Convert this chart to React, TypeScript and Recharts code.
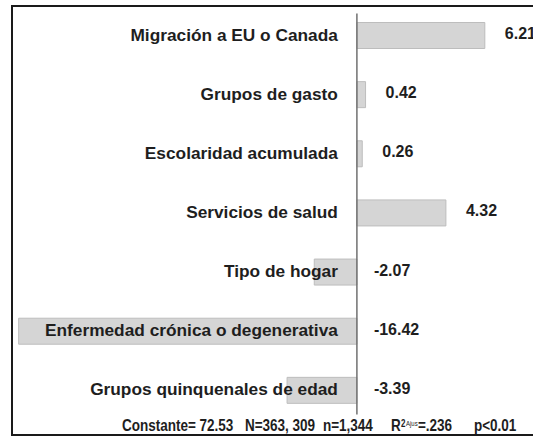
import React from 'react';
import { BarChart, Bar, XAxis, YAxis, LabelList, ReferenceLine } from 'recharts';

const categories = [
  'Migración a EU o Canada',
  'Grupos de gasto',
  'Escolaridad acumulada',
  'Servicios de salud',
  'Tipo de hogar',
  'Enfermedad crónica o degenerativa',
  'Grupos quinquenales de edad',
];
const coefficients = [6.21, 0.42, 0.26, 4.32, -2.07, -16.42, -3.39];
const valueLabels = ['6.21', '0.42', '0.26', '4.32', '-2.07', '-16.42', '-3.39'];

const footnoteParts = ['Constante= 72.53', 'N=363, 309', 'n=1,344', '=.236', 'p<0.01'];

const data = categories.map((name, i) => ({ name, value: coefficients[i], label: valueLabels[i] }));

const FONT = '"Liberation Sans", Arial, sans-serif';
const INK = '#1e1e1e';

const bounds = (props: any) => {
  const x = Number(props.x);
  const w = Number(props.width);
  return { left: Math.min(x, x + w), right: Math.max(x, x + w) };
};

const CategoryLabel = (props: any) => {
  const { index, y, height } = props;
  const d = data[index];
  const { left, right } = bounds(props);
  const zero = d.value >= 0 ? left : right;
  return (
    <text
      x={zero - 19}
      y={Number(y) + Number(height) / 2 - 1}
      textAnchor="end"
      dominantBaseline="central"
      fontFamily={FONT}
      fontWeight="bold"
      fontSize={17.3}
      fill={INK}
    >
      {d.name}
    </text>
  );
};

const ValueLabel = (props: any) => {
  const { index, y, height } = props;
  const d = data[index];
  const { right } = bounds(props);
  const x = d.value >= 0 ? right + 20 : right + 17;
  return (
    <text
      x={x}
      y={Number(y) + Number(height) / 2 - 2}
      textAnchor="start"
      dominantBaseline="central"
      fontFamily={FONT}
      fontWeight="bold"
      fontSize={16}
      fill={INK}
    >
      {d.label}
    </text>
  );
};

const AxisLine = (props: any) => {
  const { x1, y1, x2, y2 } = props;
  const top = Math.min(Number(y1), Number(y2));
  const bottom = Math.max(Number(y1), Number(y2));
  return (
    <line x1={x1} x2={x2} y1={top + 8} y2={bottom - 5} stroke="#707070" strokeWidth={1.5} />
  );
};

export default function App() {
  return (
    <div
      style={{
        position: 'absolute',
        left: 0,
        top: 0,
        width: 533,
        height: 437,
        overflow: 'hidden',
        background: '#fff',
      }}
    >
      <div style={{ position: 'absolute', left: 0, top: 0 }}>
        <BarChart
          width={533}
          height={437}
          layout="vertical"
          data={data}
          margin={{ top: 5.5, bottom: 17.5, left: 17, right: 1 }}
        >
          <XAxis type="number" hide domain={[-16.5, 8.5]} />
          <YAxis type="category" dataKey="name" hide />
          <Bar
            dataKey="value"
            barSize={26}
            fill="#d5d5d5"
            stroke="#bdbdbd"
            strokeWidth={1}
            isAnimationActive={false}
          >
            <LabelList dataKey="name" content={CategoryLabel} />
            <LabelList dataKey="value" content={ValueLabel} />
          </Bar>
          <ReferenceLine x={0} shape={AxisLine} />
        </BarChart>
      </div>
      <svg
        width={533}
        height={437}
        style={{ position: 'absolute', left: 0, top: 0, pointerEvents: 'none' }}
      >
        <g
          transform="translate(0,431) scale(1,1.25)"
          fontFamily={FONT}
          fontWeight="bold"
          fontSize={13.5}
          fill={INK}
        >
          <text x={122} y={0}>{footnoteParts[0]}</text>
          <text x={245} y={0}>{footnoteParts[1]}</text>
          <text x={323} y={0}>{footnoteParts[2]}</text>
          <text x={391} y={0}>R</text>
          <text x={401} y={-3.5} fontSize={8}>2</text>
          <text x={406} y={-4} fontSize={6} fontWeight="normal">Ajus</text>
          <text x={418} y={0}>{footnoteParts[3]}</text>
          <text x={474} y={0}>{footnoteParts[4]}</text>
        </g>
      </svg>
      <div
        style={{
          position: 'absolute',
          left: 11,
          top: 5,
          width: 560,
          height: 427,
          border: '2px solid #1a1a1a',
          pointerEvents: 'none',
        }}
      />
    </div>
  );
}
